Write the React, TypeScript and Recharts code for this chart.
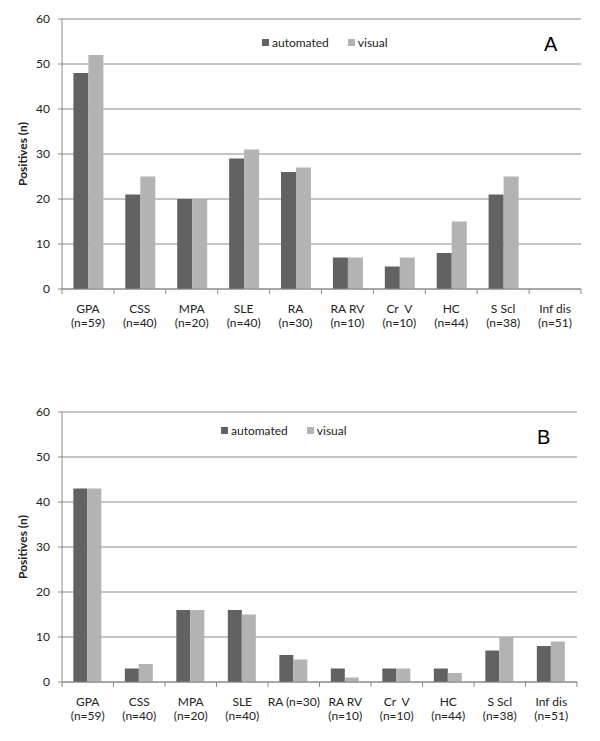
import React from 'react';
import { Bar, BarChart, CartesianGrid, Legend, XAxis, YAxis } from 'recharts';

const categoriesA = [
  'GPA\n(n=59)', 'CSS\n(n=40)', 'MPA\n(n=20)', 'SLE\n(n=40)', 'RA\n(n=30)',
  'RA RV\n(n=10)', 'Cr  V\n(n=10)', 'HC\n(n=44)', 'S Scl\n(n=38)', 'Inf dis\n(n=51)',
];
const categoriesB = [
  'GPA\n(n=59)', 'CSS\n(n=40)', 'MPA\n(n=20)', 'SLE\n(n=40)', 'RA (n=30)',
  'RA RV\n(n=10)', 'Cr  V\n(n=10)', 'HC\n(n=44)', 'S Scl\n(n=38)', 'Inf dis\n(n=51)',
];
const automatedA = [48, 21, 20, 29, 26, 7, 5, 8, 21, 0];
const visualA = [52, 25, 20, 31, 27, 7, 7, 15, 25, 0];
const automatedB = [43, 3, 16, 16, 6, 3, 3, 3, 7, 8];
const visualB = [43, 4, 16, 15, 5, 1, 3, 2, 10, 9];
const yTicks = [0, 10, 20, 30, 40, 50, 60];

const FONT = 'Lato, "Open Sans", sans-serif';
const DARK = '#626262';
const LIGHT = '#b3b3b3';
const GRID = '#8a8a8a';

function CategoryTick(props: any) {
  const { x, y, payload, index, visibleTicksCount } = props;
  const half = payload.offset || 26;
  const lines = String(payload.value).split('\n');
  const last = index === (visibleTicksCount ?? 10) - 1;
  return (
    <g>
      <line x1={x - half} y1={y} x2={x - half} y2={y + 5} stroke={GRID} />
      {last && <line x1={x + half} y1={y} x2={x + half} y2={y + 5} stroke={GRID} />}
      <text x={x} y={y + 24} textAnchor="middle" fontFamily={FONT} fontSize={12} fill="#222">
        {lines.map((l, i) => (
          <tspan key={i} x={x} dy={i === 0 ? 0 : 14} style={{ whiteSpace: 'pre' }}>
            {l}
          </tspan>
        ))}
      </text>
    </g>
  );
}

function LegendContent({ payload }: any) {
  return (
    <div style={{ display: 'flex', fontFamily: FONT, fontSize: 12, color: '#222', whiteSpace: 'nowrap' }}>
      {(payload || []).map((p: any) => (
        <div key={p.value} style={{ display: 'flex', alignItems: 'center', marginRight: 19 }}>
          <span style={{ width: 7, height: 7, background: p.color, marginRight: 3, display: 'inline-block' }} />
          {p.value}
        </div>
      ))}
    </div>
  );
}

function YLabel({ viewBox }: any) {
  const cy = viewBox.y + viewBox.height / 2;
  return (
    <text
      x={22}
      y={cy}
      transform={`rotate(-90, 22, ${cy})`}
      textAnchor="middle"
      dominantBaseline="central"
      fontFamily={FONT}
      fontSize={12}
      fontWeight="bold"
      fill="#222"
    >
      Positives (n)
    </text>
  );
}

function Panel({
  categories, automated, visual, right, legendLeft, legendTop, letter, letterX, letterY,
}: {
  categories: string[]; automated: number[]; visual: number[]; right: number;
  legendLeft: number; legendTop: number; letter: string; letterX: number; letterY: number;
}) {
  const data = categories.map((c, i) => ({ name: c, automated: automated[i], visual: visual[i] }));
  return (
    <div style={{ position: 'relative', width: 600, height: 340 }}>
      <BarChart
        width={600}
        height={340}
        data={data}
        margin={{ top: 19, right: right, bottom: 0, left: 0 }}
        barCategoryGap="22%"
        barGap={0}
      >
        <CartesianGrid vertical={false} stroke={GRID} />
        <XAxis
          dataKey="name"
          height={51}
          interval={0}
          tickSize={0}
          tickMargin={0}
          tickLine={false}
          axisLine={{ stroke: GRID }}
          tick={<CategoryTick />}
        />
        <YAxis
          width={62}
          domain={[0, 60]}
          ticks={yTicks}
          tickSize={4}
          tickMargin={8}
          axisLine={{ stroke: GRID }}
          tickLine={{ stroke: GRID }}
          tick={{ fontFamily: FONT, fontSize: 12, fill: '#222' }}
          label={<YLabel />}
        />
        <Legend
          layout="vertical"
          align="center"
          verticalAlign="middle"
          wrapperStyle={{ top: legendTop, left: legendLeft, width: 'auto' }}
          content={<LegendContent />}
        />
        <Bar dataKey="automated" fill={DARK} isAnimationActive={false} />
        <Bar dataKey="visual" fill={LIGHT} isAnimationActive={false} />
      </BarChart>
      <div
        style={{
          position: 'absolute', left: letterX, top: letterY,
          fontFamily: '"Liberation Sans", Arial, sans-serif', fontSize: 20, color: '#000',
        }}
      >
        {letter}
      </div>
    </div>
  );
}

export default function App() {
  return (
    <div style={{ position: 'absolute', top: 0, left: 0, width: 600, height: 741, background: '#fff' }}>
      <div style={{ position: 'absolute', top: 0, left: 0 }}>
        <Panel categories={categoriesA} automated={automatedA} visual={visualA} right={19}
          legendLeft={262} legendTop={35} letter="A" letterX={544} letterY={33} />
      </div>
      <div style={{ position: 'absolute', top: 393, left: 0 }}>
        <Panel categories={categoriesB} automated={automatedB} visual={visualB} right={23}
          legendLeft={221} legendTop={30} letter="B" letterX={537} letterY={33} />
      </div>
    </div>
  );
}
